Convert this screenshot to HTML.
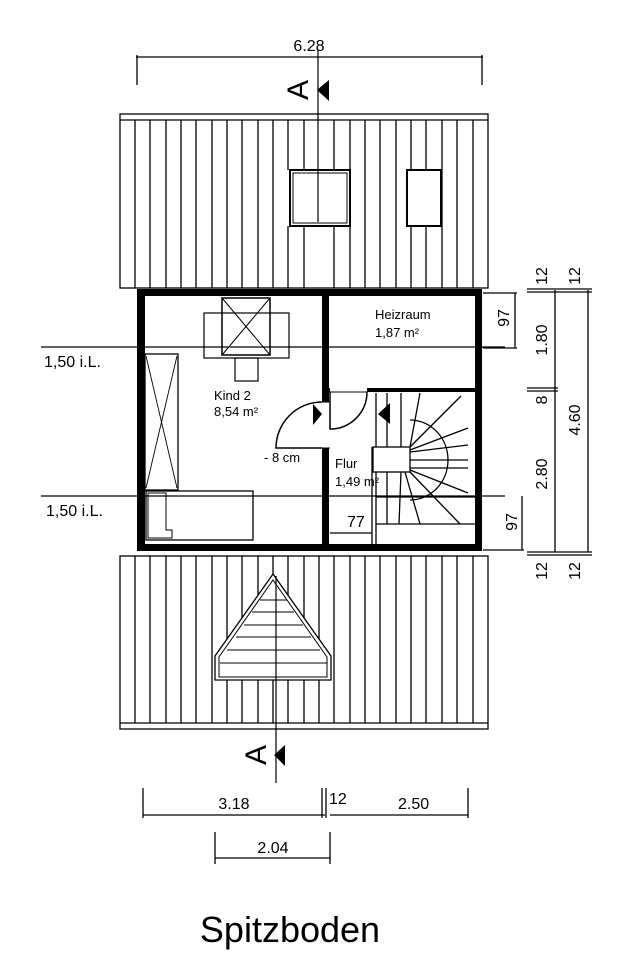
<!DOCTYPE html>
<html><head><meta charset="utf-8"><style>html,body{margin:0;padding:0;background:#fff}svg{display:block}</style></head><body>
<svg width="628" height="960" viewBox="0 0 628 960" xmlns="http://www.w3.org/2000/svg" font-family="Liberation Sans, sans-serif" fill="none" stroke="#000">
<!-- top roof -->
<rect x="120" y="114" width="368" height="174" stroke-width="1.3"/>
<line x1="120" y1="120" x2="488" y2="120" stroke-width="1.2"/>
<g stroke-width="1.3">
<line x1="135" y1="120" x2="135" y2="288"/><line x1="150" y1="120" x2="150" y2="288"/><line x1="166" y1="120" x2="166" y2="288"/><line x1="181" y1="120" x2="181" y2="288"/><line x1="196" y1="120" x2="196" y2="288"/><line x1="212" y1="120" x2="212" y2="288"/><line x1="227" y1="120" x2="227" y2="288"/><line x1="242" y1="120" x2="242" y2="288"/><line x1="258" y1="120" x2="258" y2="288"/><line x1="273" y1="120" x2="273" y2="288"/><line x1="288" y1="120" x2="288" y2="170"/><line x1="288" y1="226" x2="288" y2="288"/><line x1="304" y1="120" x2="304" y2="170"/><line x1="304" y1="226" x2="304" y2="288"/><line x1="334" y1="120" x2="334" y2="170"/><line x1="334" y1="226" x2="334" y2="288"/><line x1="350" y1="120" x2="350" y2="170"/><line x1="350" y1="226" x2="350" y2="288"/><line x1="365" y1="120" x2="365" y2="288"/><line x1="380" y1="120" x2="380" y2="288"/><line x1="396" y1="120" x2="396" y2="288"/><line x1="411" y1="120" x2="411" y2="170"/><line x1="411" y1="226" x2="411" y2="288"/><line x1="426" y1="120" x2="426" y2="170"/><line x1="426" y1="226" x2="426" y2="288"/><line x1="442" y1="120" x2="442" y2="288"/><line x1="457" y1="120" x2="457" y2="288"/><line x1="473" y1="120" x2="473" y2="288"/>
</g>
<rect x="290" y="170" width="60" height="56" fill="#fff" stroke-width="2"/>
<rect x="293" y="173" width="54" height="50" stroke-width="1"/>
<rect x="407" y="170" width="34" height="56" fill="#fff" stroke-width="2"/>
<!-- 6.28 dim -->
<line x1="136" y1="57" x2="483" y2="57" stroke-width="1.3"/>
<line x1="137" y1="55" x2="137" y2="85" stroke-width="1.3"/><line x1="482" y1="55" x2="482" y2="85" stroke-width="1.3"/>
<text x="309" y="51" font-size="16" fill="#000" stroke="none" text-anchor="middle">6.28</text>
<line x1="318" y1="50" x2="318" y2="222" stroke-width="1.2"/>
<polygon points="329,80 329,101 317,90" fill="#000" stroke="none"/>
<text transform="translate(308,90) rotate(-90)" font-size="30" fill="#000" stroke="none" text-anchor="middle">A</text>
<!-- walls -->
<path d="M137,289H482V551H137Z M145,296V544H322V296Z M329,296V392H475V296Z M329,392V544H475V392Z" fill="#000" stroke="none" fill-rule="evenodd"/>
<rect x="329" y="388" width="146" height="4" fill="#000" stroke="none"/>
<rect x="321" y="402" width="9" height="46" fill="#fff" stroke="none"/>
<line x1="321" y1="402" x2="330" y2="402" stroke-width="1"/><line x1="321" y1="448" x2="330" y2="448" stroke-width="1"/>
<rect x="330" y="386" width="37" height="7" fill="#fff" stroke="none"/>
<line x1="330" y1="392" x2="367" y2="392" stroke-width="1"/>
<!-- doors -->
<path d="M322,402 A46,46 0 0 0 276,448 H322" stroke-width="1.5"/>
<path d="M367,392 A37,37 0 0 1 330,429 V392" stroke-width="1.5"/>
<polygon points="313,404 313,425 322,414" fill="#000" stroke="none"/>
<polygon points="390,403 390,424 378,414" fill="#000" stroke="none"/>
<!-- skylight -->
<rect x="222" y="298" width="48" height="57" stroke-width="1.5"/>
<line x1="222" y1="298" x2="270" y2="355" stroke-width="1"/><line x1="270" y1="298" x2="222" y2="355" stroke-width="1"/>
<rect x="204" y="313" width="85" height="45" stroke-width="1.2"/>
<rect x="235" y="358" width="23" height="23" stroke-width="1.2"/>
<!-- wardrobe -->
<rect x="145" y="354" width="33" height="136" stroke-width="1.3"/>
<line x1="146" y1="356" x2="177" y2="488" stroke-width="0.9"/><line x1="177" y1="356" x2="146" y2="488" stroke-width="0.9"/>
<!-- bed -->
<rect x="146" y="491" width="107" height="49" stroke-width="1.3"/>
<path d="M148,493 H166 V530 H172 V538 H148 Z" stroke-width="1"/>
<!-- stair -->
<g stroke-width="1.3">
<line x1="376" y1="393" x2="376" y2="544"/><line x1="372" y1="447" x2="372" y2="544"/>
<rect x="373" y="447" width="37" height="25" fill="#fff"/>
<line x1="387" y1="393" x2="387" y2="447"/><line x1="401" y1="393" x2="401" y2="447"/>
<line x1="387" y1="472" x2="387" y2="524"/>
<line x1="401" y1="472" x2="399" y2="524"/>
<path d="M410,420 A38,40 0 0 1 410,500" />
<line x1="410" y1="447" x2="420" y2="393"/><line x1="410" y1="447" x2="461" y2="396"/><line x1="410" y1="450" x2="468" y2="428"/><line x1="410" y1="452" x2="468" y2="445"/>
<line x1="410" y1="470" x2="468" y2="493"/><line x1="410" y1="472" x2="460" y2="524"/><line x1="405" y1="472" x2="420" y2="524"/>
<line x1="410" y1="460" x2="468" y2="460"/><line x1="410" y1="468" x2="468" y2="468"/>
<line x1="376" y1="497" x2="475" y2="497"/>
<line x1="376" y1="524" x2="475" y2="524"/>
</g>
<line x1="330" y1="533" x2="372" y2="533" stroke-width="1.2"/>
<!-- i.L. lines -->
<line x1="41" y1="347" x2="505" y2="347" stroke-width="1.3"/>
<line x1="41" y1="496" x2="505" y2="496" stroke-width="1.3"/>
<g fill="#000" stroke="none" font-size="16">
<text x="44" y="367">1,50 i.L.</text>
<text x="46" y="516">1,50 i.L.</text>
<text x="214" y="400" font-size="13">Kind 2</text>
<text x="214" y="416" font-size="13">8,54 m²</text>
<text x="375" y="319" font-size="13">Heizraum</text>
<text x="375" y="337" font-size="13">1,87 m²</text>
<text x="335" y="468" font-size="13">Flur</text>
<text x="335" y="486" font-size="13">1,49 m²</text>
<text x="264" y="462" font-size="13">- 8 cm</text>
<text x="347" y="527" font-size="16">77</text>
</g>
<!-- bottom roof -->
<rect x="120" y="556" width="368" height="173" stroke-width="1.3"/>
<line x1="120" y1="723" x2="488" y2="723" stroke-width="1.2"/>
<g stroke-width="1.3">
<line x1="135" y1="556" x2="135" y2="723"/><line x1="150" y1="556" x2="150" y2="723"/><line x1="166" y1="556" x2="166" y2="723"/><line x1="181" y1="556" x2="181" y2="723"/><line x1="196" y1="556" x2="196" y2="723"/><line x1="212" y1="556" x2="212" y2="723"/><line x1="227" y1="556" x2="227" y2="723"/><line x1="242" y1="556" x2="242" y2="723"/><line x1="258" y1="556" x2="258" y2="723"/><line x1="273" y1="556" x2="273" y2="723"/><line x1="288" y1="556" x2="288" y2="723"/><line x1="304" y1="556" x2="304" y2="723"/><line x1="319" y1="556" x2="319" y2="723"/><line x1="334" y1="556" x2="334" y2="723"/><line x1="350" y1="556" x2="350" y2="723"/><line x1="365" y1="556" x2="365" y2="723"/><line x1="380" y1="556" x2="380" y2="723"/><line x1="396" y1="556" x2="396" y2="723"/><line x1="411" y1="556" x2="411" y2="723"/><line x1="426" y1="556" x2="426" y2="723"/><line x1="442" y1="556" x2="442" y2="723"/><line x1="457" y1="556" x2="457" y2="723"/><line x1="473" y1="556" x2="473" y2="723"/>
</g>
<polygon points="273,574 331,656 331,680 215,680 215,656" fill="#fff" stroke-width="1.3"/>
<polygon points="273,580 327,657 327,677 219,677 219,657" stroke-width="1"/>
<g stroke-width="1">
<line x1="260" y1="600" x2="287" y2="600"/><line x1="252" y1="612" x2="294" y2="612"/><line x1="244" y1="625" x2="303" y2="625"/><line x1="236" y1="637" x2="311" y2="637"/><line x1="227" y1="650" x2="320" y2="650"/><line x1="220" y1="663" x2="327" y2="663"/>
</g>
<line x1="276" y1="576" x2="276" y2="783" stroke-width="1.2"/>
<polygon points="285,745 285,766 274,755" fill="#000" stroke="none"/>
<text transform="translate(266,755) rotate(-90)" font-size="30" fill="#000" stroke="none" text-anchor="middle">A</text>
<!-- bottom dims -->
<g stroke-width="1.3">
<line x1="143" y1="815" x2="325" y2="815"/><line x1="330" y1="815" x2="468" y2="815"/>
<line x1="143" y1="788" x2="143" y2="818"/><line x1="322" y1="788" x2="322" y2="818"/><line x1="326" y1="788" x2="326" y2="818"/><line x1="468" y1="788" x2="468" y2="818"/>
<line x1="215" y1="858" x2="330" y2="858"/><line x1="215" y1="832" x2="215" y2="864"/><line x1="330" y1="832" x2="330" y2="864"/>
</g>
<g fill="#000" stroke="none" font-size="16">
<text x="234" y="809" text-anchor="middle">3.18</text>
<text x="329" y="804">12</text>
<text x="398" y="809">2.50</text>
<text x="273" y="853" text-anchor="middle">2.04</text>
</g>
<text x="290" y="942" font-size="36" fill="#000" stroke="none" text-anchor="middle">Spitzboden</text>
<!-- right dims -->
<g stroke-width="1.3">
<line x1="483" y1="293" x2="517" y2="293"/><line x1="515" y1="293" x2="515" y2="348"/><line x1="483" y1="348" x2="517" y2="348"/>
<line x1="483" y1="550" x2="524" y2="550"/><line x1="522" y1="496" x2="522" y2="550"/>
<line x1="555" y1="290" x2="555" y2="552"/><line x1="588" y1="290" x2="588" y2="552"/>
<line x1="527" y1="289" x2="592" y2="289"/><line x1="527" y1="292" x2="592" y2="292"/>
<line x1="527" y1="552" x2="592" y2="552"/><line x1="527" y1="555" x2="592" y2="555"/>
<line x1="527" y1="388" x2="558" y2="388"/><line x1="527" y1="391" x2="558" y2="391"/>
</g>
<g fill="#000" stroke="none" font-size="16" text-anchor="middle">
<text transform="translate(509,318) rotate(-90)">97</text>
<text transform="translate(517,522) rotate(-90)">97</text>
<text transform="translate(547,276) rotate(-90)">12</text>
<text transform="translate(580,276) rotate(-90)">12</text>
<text transform="translate(547,571) rotate(-90)">12</text>
<text transform="translate(580,571) rotate(-90)">12</text>
<text transform="translate(547,340) rotate(-90)">1.80</text>
<text transform="translate(547,400) rotate(-90)">8</text>
<text transform="translate(547,474) rotate(-90)">2.80</text>
<text transform="translate(580,420) rotate(-90)">4.60</text>
</g>
</svg>
</body></html>
